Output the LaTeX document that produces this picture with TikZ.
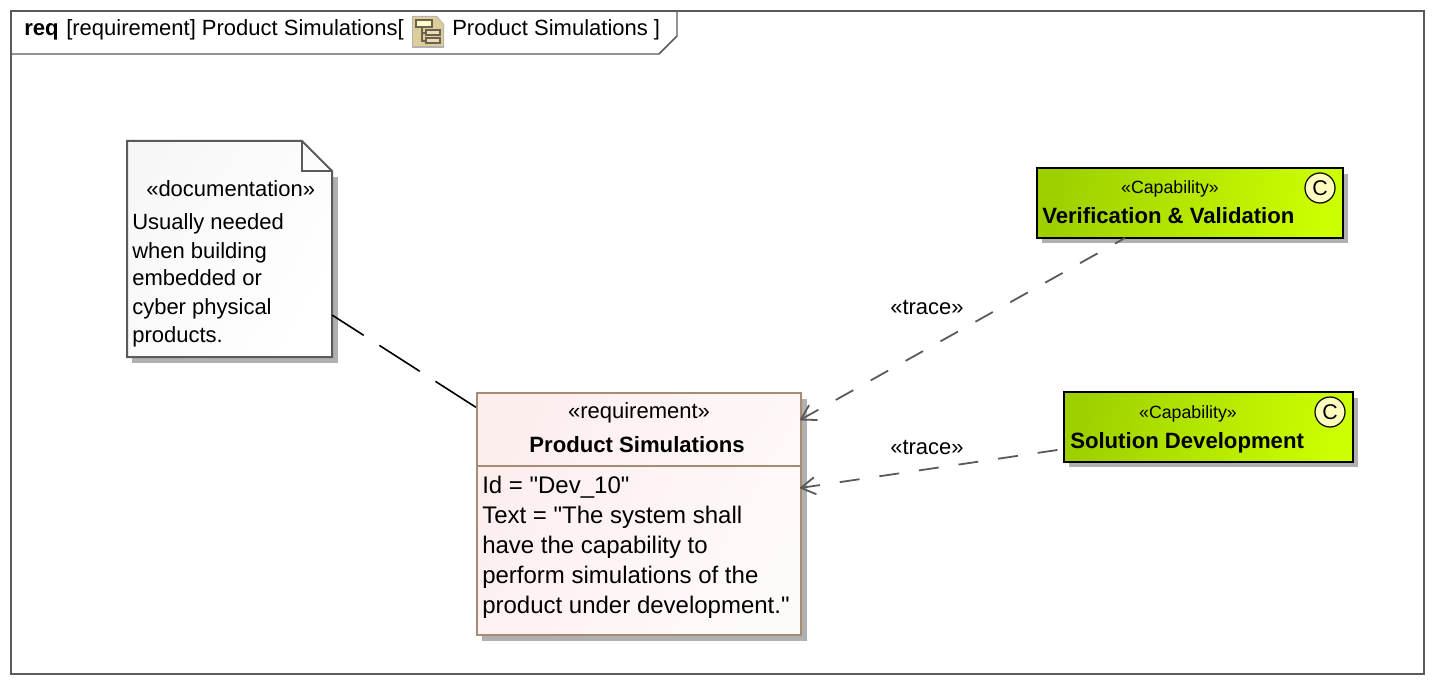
\documentclass[tikz,border=0pt]{standalone}
\usepackage{fontspec}
\newfontfamily\plainsans{Liberation Sans}
\usetikzlibrary{arrows.meta,calc}
\definecolor{frameln}{HTML}{5A5A5A}
\definecolor{reqln}{HTML}{A58C73}
\definecolor{shadowc}{HTML}{B0B0B0}
\definecolor{capA}{HTML}{9ED000}
\definecolor{capB}{HTML}{CCFF00}
\definecolor{reqA}{HTML}{FDEEEE}
\definecolor{reqB}{HTML}{FFFAFA}
\definecolor{iconc}{HTML}{DECD9B}
\definecolor{icond}{HTML}{6B6250}
\tikzset{
  txt/.style={font=\plainsans\fontsize{16.5pt}{20pt}\selectfont,anchor=base west,inner sep=0pt,text=black},
  txtb/.style={txt,font=\plainsans\fontsize{16.6pt}{20pt}\selectfont\bfseries},
  reqtxt/.style={txt,font=\plainsans\fontsize{18pt}{20pt}\selectfont},
  small/.style={txt,font=\plainsans\fontsize{13.3pt}{16pt}\selectfont},
  capbox/.style={draw=black,line width=1.5pt,outer sep=0pt,left color=capA,right color=capB,shading angle=80,minimum width=0.75pt*#1,minimum height=52.5pt,inner sep=0pt,anchor=north west},
  dep/.style={draw=frameln,line width=1.35pt},
  depline/.style={draw=black,line width=1.2pt,dash pattern=on 36pt off 14pt,dash phase=-1pt},
  tracearrow/.style={dep,-{Straight Barb[length=10.5pt,width=12.5pt,line width=1.35pt,round]}},
  ball/.style={circle,draw=black,line width=0.9pt,fill=yellow!25,minimum size=22.5pt,inner sep=0pt,font=\plainsans\fontsize{16pt}{18pt}\selectfont},
}
\begin{document}
\begin{tikzpicture}[x=0.75pt,y=-0.75pt]
\useasboundingbox (0,0) rectangle (1434,684);
% frame
\node[draw=frameln,line width=1.1pt,outer sep=0pt,minimum width=1059.75pt,minimum height=497.25pt,inner sep=0pt,anchor=north west] (frame) at (11,11) {};
\draw[frameln,line width=1.1pt] (11,54) -- (659,54) -- (677,36) -- (677,11);
\node[txtb] (reqw) at (24,36) {req};
\node[txt] (title1) at (66,36) {[requirement] Product Simulations[};
\node[txt] (title2) at (452,36) {Product Simulations ]};
% tree icon
\fill[gray!60] (412,16) -- (437,16) -- (444,24) -- (444,48) -- (412,48) -- cycle;
\fill[iconc] (413,17) -- (436,17) -- (443,24) -- (443,46) -- (413,46) -- cycle;
\draw[icond,line width=.9pt,fill=yellow!20] (416,20) rectangle (432,27);
\draw[icond,line width=.9pt] (422,27) -- (422,41) -- (426,41) (422,33) -- (426,33);
\draw[icond,line width=1.2pt,fill=iconc!70] (426,30) rectangle (440,35);
\draw[icond,line width=1.2pt,fill=iconc!70] (426,38) rectangle (440,43);
% note
\fill[shadowc] (132,177) rectangle (338,363);
\path[draw=frameln,line width=1.5pt,left color=black!3,right color=white,shading angle=60]
  (127,141) -- (302,141) -- (332,171) -- (332,357) -- (127,357) -- cycle;
\draw[frameln,line width=1.5pt] (302,141) -- (302,171) -- (332,171);
\node[inner sep=0pt,outer sep=0pt,minimum width=153.75pt,minimum height=162pt,anchor=north west] (note) at (127,141) {};
\node[txt] (n0) at (146,196.5) {«documentation»};
\node[txt] (n1) at (132,230) {Usually needed};
\node[txt] (n2) at (132,258) {when building};
\node[txt] (n3) at (132,286) {embedded or};
\node[txt] (n4) at (132,314) {cyber physical};
\node[txt] (n5) at (132,342) {products.};
% requirement
\fill[shadowc] (482,399) rectangle (807,641);
\node[draw=reqln,line width=1.5pt,outer sep=0pt,left color=reqA,right color=reqB,shading angle=60,minimum width=243pt,minimum height=181.5pt,inner sep=0pt,anchor=north west] (req) at (477,393) {};
\draw[reqln,line width=1.5pt] (477,466) -- (801,466);
\node[txt,anchor=base] (r0) at (639,418) {«requirement»};
\node[txtb,anchor=base] (r1) at (637,452) {Product Simulations};
\node[reqtxt] (r2) at (482,493) {Id = "Dev\_10"};
\node[reqtxt] (r3) at (482,523) {Text = "The system shall};
\node[reqtxt] (r4) at (482,553) {have the capability to};
\node[reqtxt] (r5) at (482,583) {perform simulations of the};
\node[reqtxt] (r6) at (482,613) {product under development."};
% capabilities
\fill[shadowc] (1042,174) rectangle (1348,243);
\node[capbox=306] (vv) at (1037,168) {};
\node[small,anchor=base] (v0) at (1170,194) {«Capability»};
\node[txtb] (v1) at (1042,224) {Verification \& Validation};
\node[ball] (vc) at (1320,188) {C};
\fill[shadowc] (1069,398) rectangle (1358,467);
\node[capbox=289] (sd) at (1064,392) {};
\node[small,anchor=base] (s0) at (1188,418) {«Capability»};
\node[txtb] (s1) at (1070,448) {Solution Development};
\node[ball] (sc) at (1330,412) {C};
% connectors
\draw[depline] ([yshift=-11.25pt]req.north west) -- ([yshift=-49.5pt]note.east);
\draw[tracearrow,dash pattern=on 15pt off 15pt,dash phase=6.4pt] ([xshift=66pt]vv.south west) -- ([xshift=-0.75pt,yshift=-20.25pt]req.north east);
\draw[tracearrow,dash pattern=on 15pt off 15pt,dash phase=25pt] ([yshift=-16.5pt]sd.west) -- ([xshift=-0.75pt,yshift=19.5pt]req.east);
\node[txt] (t1) at (890,314) {«trace»};
\node[txt] (t2) at (890,454) {«trace»};
\end{tikzpicture}
\end{document}
